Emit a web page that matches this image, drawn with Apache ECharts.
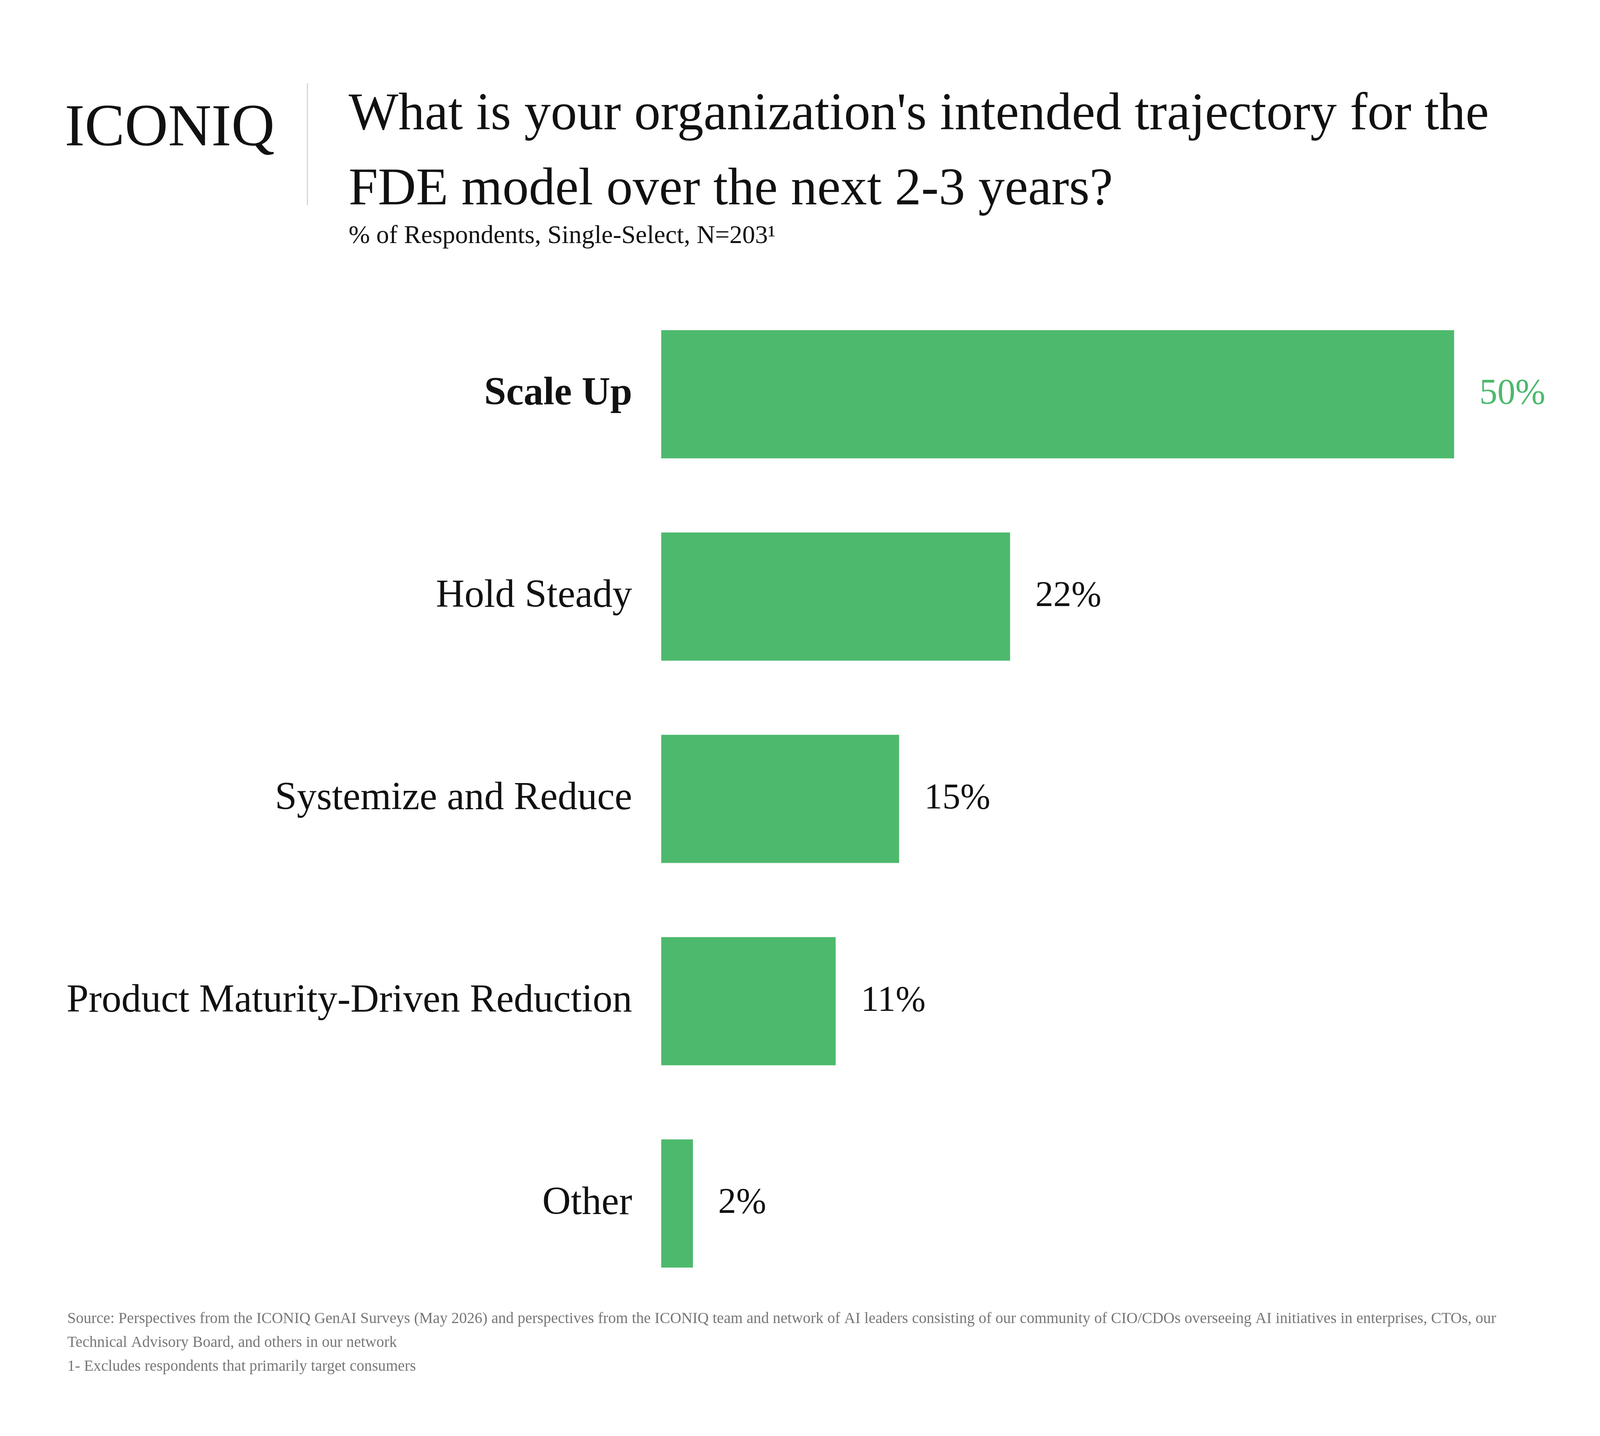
<!DOCTYPE html>
<html><head><meta charset="utf-8">
<script src="https://cdn.jsdelivr.net/npm/echarts@6/dist/echarts.min.js"></script>
<style>html,body{margin:0;padding:0;background:#fff;overflow:hidden}#c{width:100vw;height:100vh}</style>
</head><body><div id="c"></div>
<script>
const categories = ['Scale Up','Hold Steady','Systemize and Reduce','Product Maturity-Driven Reduction','Other'];
const values = [50,22,15,11,2];
const green = '#4DB96D';
const F = 'Liberation Serif';
const W = window.innerWidth, H = window.innerHeight;
const sx = W/5067, sy = H/3675, s = Math.min(sx, sy);
const chart = echarts.init(document.getElementById('c'));
chart.setOption({
  backgroundColor:'#fff',
  grid:{left:2094*sx,right:462*sx,top:750*sy,bottom:336*sy},
  xAxis:{type:'value',min:0,max:50,show:false},
  yAxis:{type:'category',inverse:true,data:categories,
    axisLine:{show:false},axisTick:{show:false},
    axisLabel:{margin:92*sx,fontFamily:F,fontSize:125*s,color:'#111',
      formatter:(v,i)=>i===0?'{b|'+v+'}':v,
      rich:{b:{fontFamily:F,fontSize:125*s,fontWeight:'bold',color:'#111'}}}},
  series:[{type:'bar',data:values.map((v,i)=>({value:v,label:{color:i===0?green:'#111'}})),
    barWidth:328*sy,itemStyle:{color:green},
    label:{show:true,position:'right',distance:80*sx,fontFamily:F,fontSize:114*s,formatter:'{c}%'}}],
  graphic:[
    {type:'text',left:205*sx,top:255*sy,style:{text:'ICONIQ',font:(190*s)+'px "Liberation Serif"',fill:'#111'}},
    {type:'rect',shape:{x:972*sx,y:213*sy,width:3*s,height:312*sy},style:{fill:'#ccc'}},
    {type:'text',left:1104*sx,top:200*sy,style:{text:"What is your organization's intended trajectory for the\nFDE model over the next 2-3 years?",font:(167*s)+'px "Liberation Serif"',lineHeight:192*sy,fill:'#111'}},
    {type:'text',left:1104*sx,top:572*sy,style:{text:'% of Respondents, Single-Select, N=203¹',font:(81*s)+'px "Liberation Serif"',fill:'#111'}},
    {type:'text',left:213*sx,top:3345*sy,style:{text:'Source: Perspectives from the ICONIQ GenAI Surveys (May 2026) and perspectives from the ICONIQ team and network of AI leaders consisting of our community of CIO/CDOs overseeing AI initiatives in enterprises, CTOs, our\nTechnical Advisory Board, and others in our network\n1- Excludes respondents that primarily target consumers',font:(49*s)+'px "Liberation Serif"',lineHeight:61*sy,fill:'#777'}}
  ]
});
</script></body></html>
